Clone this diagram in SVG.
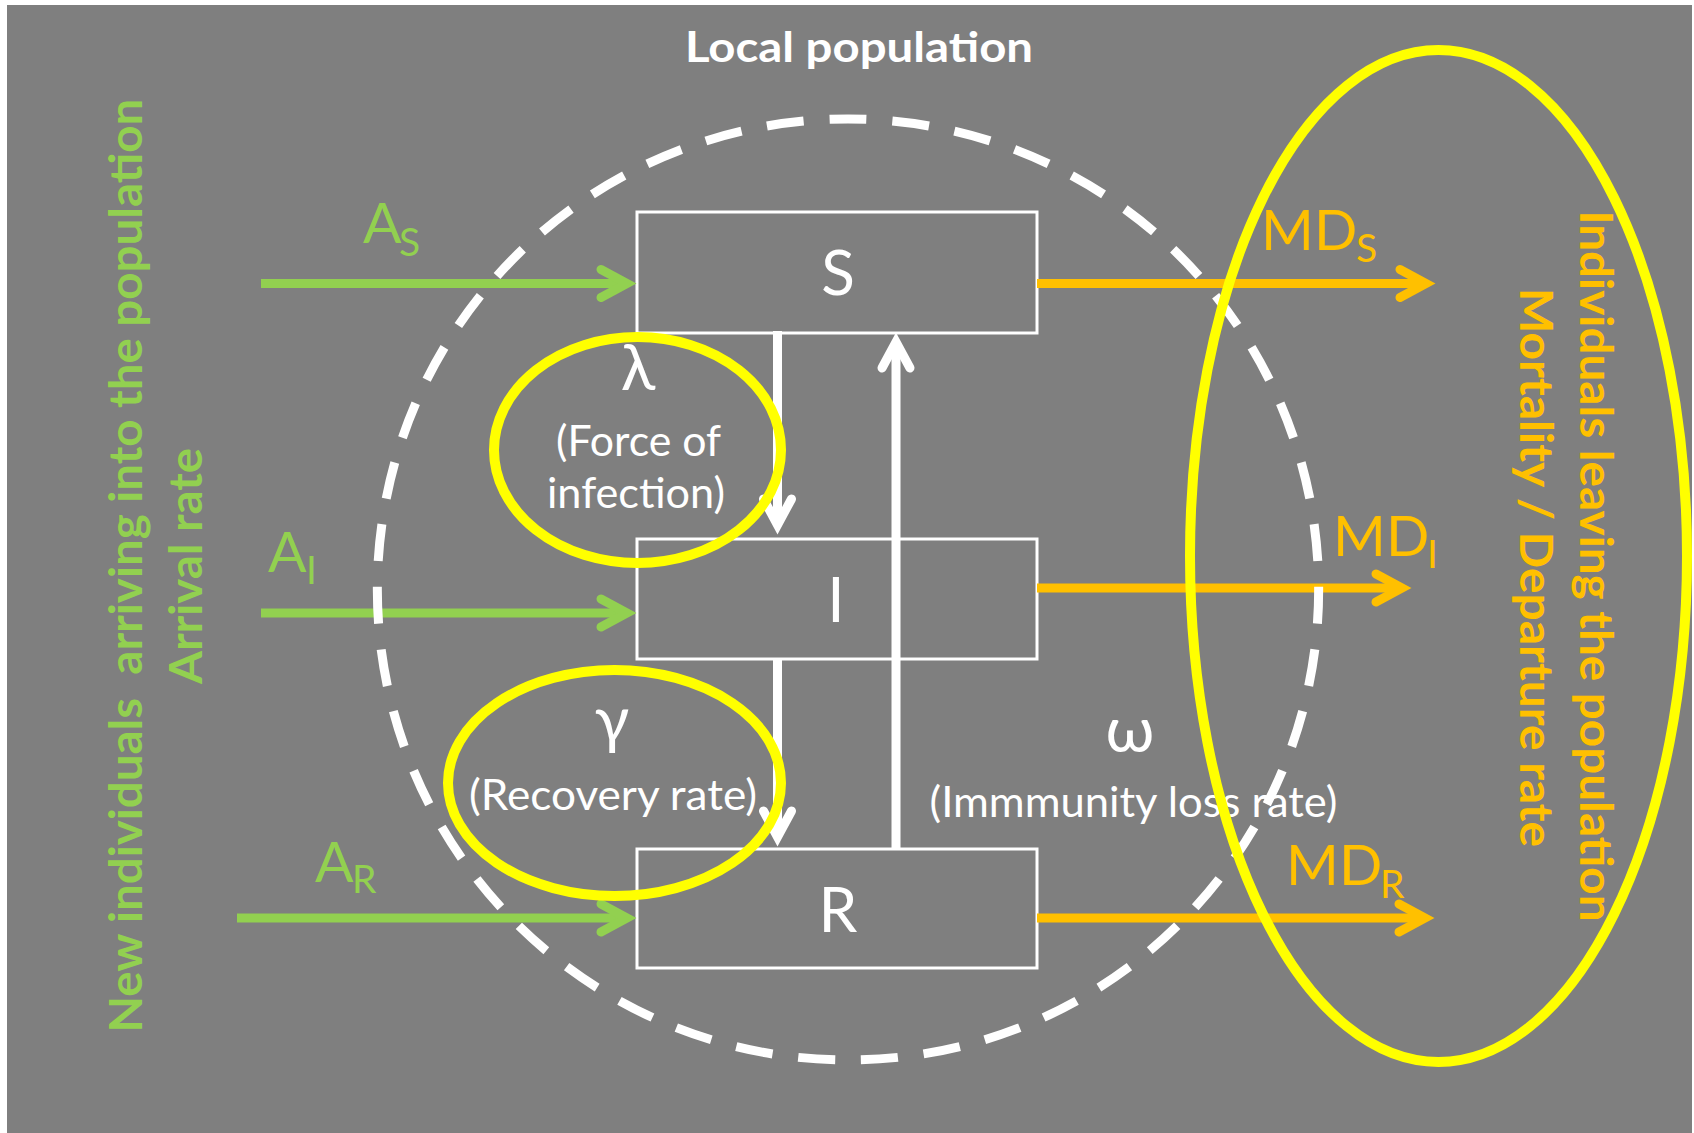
<svg xmlns="http://www.w3.org/2000/svg" width="1694" height="1133" viewBox="0 0 1694 1133">
<style>
.bg{fill:#7f7f7f}
.box{fill:none;stroke:#ffffff;stroke-width:3}
.t{font-family:Lato,"Open Sans","Liberation Sans",sans-serif}
.w{fill:#ffffff}
.g{fill:#92d050}
.o{fill:#ffc000}
.b{font-weight:bold}
.big{font-size:62px}
.sym{font-size:57px}
.sub{font-size:39px}
.gr{font-size:64px}
.small{font-size:42px}
.vert{font-size:45px;font-weight:bold}
.sh{stroke-width:9;fill:none;stroke-linecap:butt}
.shg{stroke:#92d050}
.sho{stroke:#ffc000}
.shw{stroke:#ffffff}
.yel{fill:none;stroke:#ffff00;stroke-width:10}
.dash{fill:none;stroke:#ffffff;stroke-width:9;stroke-dasharray:37 25.9;stroke-dashoffset:18.5}
.pre{white-space:pre}
</style>
<defs>
<marker id="hg" markerUnits="userSpaceOnUse" orient="auto" refX="0" refY="0" markerWidth="60" markerHeight="60" overflow="visible">
<path d="M -26 -14 L 0 0 L -26 14" fill="none" stroke="#92d050" stroke-width="9" stroke-linecap="round" stroke-linejoin="miter"/>
</marker>
<marker id="ho" markerUnits="userSpaceOnUse" orient="auto" refX="0" refY="0" markerWidth="60" markerHeight="60" overflow="visible">
<path d="M -26 -14 L 0 0 L -26 14" fill="none" stroke="#ffc000" stroke-width="9" stroke-linecap="round" stroke-linejoin="miter"/>
</marker>
<marker id="hw" markerUnits="userSpaceOnUse" orient="auto" refX="0" refY="0" markerWidth="60" markerHeight="60" overflow="visible">
<path d="M -26 -14 L 0 0 L -26 14" fill="none" stroke="#ffffff" stroke-width="9" stroke-linecap="round" stroke-linejoin="miter"/>
</marker>
</defs>
<rect x="0" y="0" width="1694" height="1133" fill="#ffffff"/>
<rect class="bg" x="7" y="5" width="1685" height="1128"/>

<g id="node-S">
<rect class="box" x="637" y="212" width="400" height="121"/>
<text class="t w big" x="838" y="295" text-anchor="middle">S</text>
</g>
<g id="node-I">
<rect class="box" x="637" y="539" width="400" height="120"/>
<text class="t w big" x="836" y="622" text-anchor="middle">I</text>
</g>
<g id="node-R">
<rect class="box" x="637" y="849" width="400" height="119"/>
<text class="t w big" x="838" y="932" text-anchor="middle">R</text>
</g>

<g id="connectors">
<line class="sh shg" x1="261" y1="283.5" x2="627" y2="283.5" marker-end="url(#hg)"/>
<line class="sh shg" x1="261" y1="613" x2="627" y2="613" marker-end="url(#hg)"/>
<line class="sh shg" x1="237" y1="918" x2="627" y2="918" marker-end="url(#hg)"/>
<line class="sh sho" x1="1037" y1="283.5" x2="1426" y2="283.5" marker-end="url(#ho)"/>
<line class="sh sho" x1="1037" y1="588" x2="1402" y2="588" marker-end="url(#ho)"/>
<line class="sh sho" x1="1037" y1="918" x2="1425" y2="918" marker-end="url(#ho)"/>
<line class="sh shw" x1="777.5" y1="331" x2="777.5" y2="525" marker-end="url(#hw)"/>
<line class="sh shw" x1="777.5" y1="659" x2="777.5" y2="837" marker-end="url(#hw)"/>
<line class="sh shw" x1="896" y1="849" x2="896" y2="342" marker-end="url(#hw)"/>
</g>

<g id="local-population">
<path class="dash" d="M 848 119 A 470.5 470.5 0 1 1 848 1060 A 470.5 470.5 0 1 1 848 119"/>
<text class="t w b" x="859" y="62" text-anchor="middle" font-size="42" textLength="348" lengthAdjust="spacingAndGlyphs">Local population</text>
</g>

<g id="force-of-infection">
<ellipse class="yel" cx="637.5" cy="450" rx="143.5" ry="113"/>
<text class="t w gr" x="638" y="390" text-anchor="middle">λ</text>
<text class="t w small" x="638.5" y="456" text-anchor="middle" textLength="165" lengthAdjust="spacingAndGlyphs">(Force of</text>
<text class="t w small" x="636" y="508" text-anchor="middle" textLength="178" lengthAdjust="spacingAndGlyphs">infection)</text>
</g>

<g id="recovery-rate">
<ellipse class="yel" cx="614.5" cy="783" rx="166.5" ry="113"/>
<text class="t w gr" x="612" y="742" text-anchor="middle">γ</text>
<text class="t w small" x="613" y="810" text-anchor="middle" textLength="288" lengthAdjust="spacingAndGlyphs">(Recovery rate)</text>
</g>

<g id="immunity-loss">
<text class="t w gr" x="1130" y="752" text-anchor="middle">ω</text>
<text class="t w small" x="929.5" y="817" textLength="408" lengthAdjust="spacingAndGlyphs">(Immmunity loss rate)</text>
</g>

<g id="leaving">
<ellipse class="yel" cx="1438.5" cy="556" rx="248.5" ry="506"/>
<text class="t o vert" transform="translate(1580,566) rotate(90)" text-anchor="middle" textLength="711" lengthAdjust="spacingAndGlyphs">Individuals leaving the population</text>
<text class="t o vert" transform="translate(1520,567.5) rotate(90)" text-anchor="middle" textLength="559" lengthAdjust="spacingAndGlyphs">Mortality / Departure rate</text>
</g>

<g id="arriving">
<text class="t g vert pre" xml:space="preserve" transform="translate(141.7,565.6) rotate(-90)" text-anchor="middle" textLength="934" lengthAdjust="spacingAndGlyphs">New individuals  arriving into the population</text>
<text class="t g vert" transform="translate(201.7,566) rotate(-90)" text-anchor="middle" textLength="236" lengthAdjust="spacingAndGlyphs">Arrival rate</text>
</g>

<g id="labels-arrival">
<text class="t g sym" x="363" y="243">A<tspan class="sub" x="399" y="256">S</tspan></text>
<text class="t g sym" x="268" y="572">A<tspan class="sub" x="306" y="584">I</tspan></text>
<text class="t g sym" x="315" y="882">A<tspan class="sub" x="352" y="893">R</tspan></text>
</g>

<g id="labels-departure">
<text class="t o sym" x="1261" y="250">MD<tspan class="sub" x="1356" y="262">S</tspan></text>
<text class="t o sym" x="1333" y="556">MD<tspan class="sub" x="1427" y="568">I</tspan></text>
<text class="t o sym" x="1286" y="885">MD<tspan class="sub" x="1380" y="898">R</tspan></text>
</g>
</svg>
